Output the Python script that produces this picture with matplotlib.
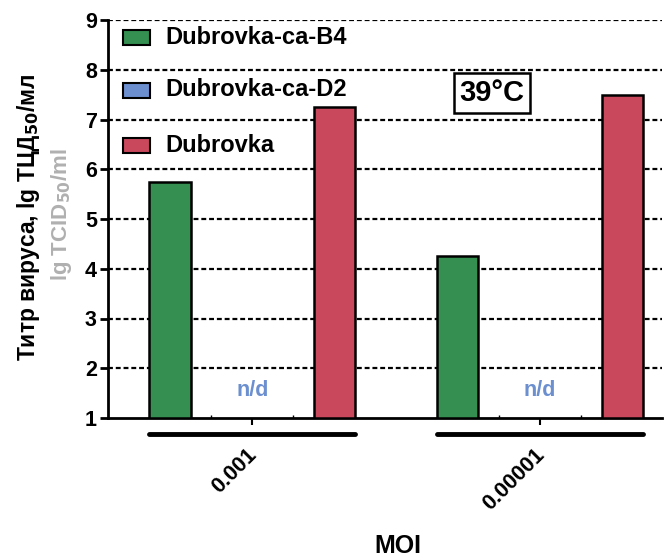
import matplotlib
matplotlib.use("Agg")
import matplotlib.pyplot as plt
import matplotlib.transforms as mtransforms
from matplotlib.patches import Rectangle
import numpy as np

plt.rcParams['font.family'] = ['Liberation Sans', 'DejaVu Sans']
plt.rcParams['font.weight'] = 'bold'
plt.rcParams['mathtext.default'] = 'bf'

# Data
moi_labels = ["0.001", "0.00001"]
series_names = ["Dubrovka-ca-B4", "Dubrovka-ca-D2", "Dubrovka"]
b4_titer = [5.75, 4.25]
d2_titer = [None, None]          # not detected
dubrovka_titer = [7.25, 7.5]
colors = ["#348f51", "#6b8fcf", "#c9485c"]
baseline = 1.0

W, H = 667, 557
fig = plt.figure(figsize=(W/100, H/100), dpi=100)
ax = fig.add_axes([108/W, 1 - 418/H, (662-108)/W, (418-20)/H])

group_centers = np.array([1.0, 4.5])
offsets = np.array([-1.0, 0.0, 1.0])
width = 0.5

for gi, gc in enumerate(group_centers):
    vals = [b4_titer[gi], d2_titer[gi], dubrovka_titer[gi]]
    for si, v in enumerate(vals):
        x = gc + offsets[si]
        if v is None:
            ax.text(x, 1.56, "n/d", ha="center", va="center", color=colors[1],
                    fontsize=15.5, fontweight="bold")
        else:
            ax.bar(x, v - baseline, bottom=baseline, width=width, color=colors[si],
                   edgecolor="black", linewidth=1.8, zorder=3)

ax.set_xlim(-0.754, 5.985)
ax.set_ylim(1, 9)
ax.set_yticks(range(1, 10))
for y in range(2, 10):
    ax.axhline(y, color="black", linestyle=(0, (2.2, 1.3)), linewidth=1.6, zorder=1)

for s in ["top", "right"]:
    ax.spines[s].set_visible(False)
ax.spines["left"].set_linewidth(2)
ax.spines["bottom"].set_linewidth(2)

ax.tick_params(axis="y", length=6, width=2, labelsize=15.5, pad=2)
ax.set_xticks(group_centers)
ax.set_xticklabels(moi_labels, rotation=45, ha="right", rotation_mode="anchor",
                   fontsize=15.5, fontweight="bold")
ax.tick_params(axis="x", length=5, width=1.5, pad=14)
shift = mtransforms.ScaledTranslation(-6/100, 0, fig.dpi_scale_trans)
for lab in ax.get_xticklabels():
    lab.set_transform(lab.get_transform() + shift)
ax.set_xticks([0.5, 1.5, 4.0, 5.0], minor=True)
ax.tick_params(axis="x", which="minor", direction="in", length=2, width=1)
for lab in ax.get_yticklabels():
    lab.set_fontweight("bold")

# group bars beneath the axis
trans = mtransforms.blended_transform_factory(ax.transData, ax.transAxes)
for gc in group_centers:
    ax.plot([gc - 1 - width/2, gc + 1 + width/2], [-0.04, -0.04], color="black",
            linewidth=3.5, solid_capstyle="round", transform=trans, clip_on=False)

fig.text(398/W, 1 - 546/H, "MOI", ha="center", va="center",
         fontsize=18, fontweight="bold")
fig.text(29/W, 1 - 217/H, "Титр вируса, lg ТЦД$_{50}$/мл", rotation=90,
         ha="center", va="center", fontsize=16.5, fontweight="bold")
fig.text(62/W, 1 - 215/H, "lg TCID$_{50}$/ml", rotation=90,
         ha="center", va="center", fontsize=16, fontweight="bold", color="#b0b0b0")

# legend: swatch + label per series
row_y = [37, 90, 145]
for name, c, yy in zip(series_names, colors, row_y):
    fig.patches.append(Rectangle(((123)/W, 1 - (yy + 7.5)/H), 27/W, 15/H,
                                 transform=fig.transFigure, facecolor=c,
                                 edgecolor="black", linewidth=1.5))
    fig.text(165/W, 1 - yy/H, name, ha="left", va="center", fontsize=17,
             fontweight="bold")

fig.text(492/W, 1 - 93/H, "39°C", fontsize=21, fontweight="bold",
         ha="center", va="center",
         bbox=dict(boxstyle="square,pad=0.2", facecolor="white", edgecolor="black",
                   linewidth=1.8))

fig.savefig("out.png", dpi=100)
